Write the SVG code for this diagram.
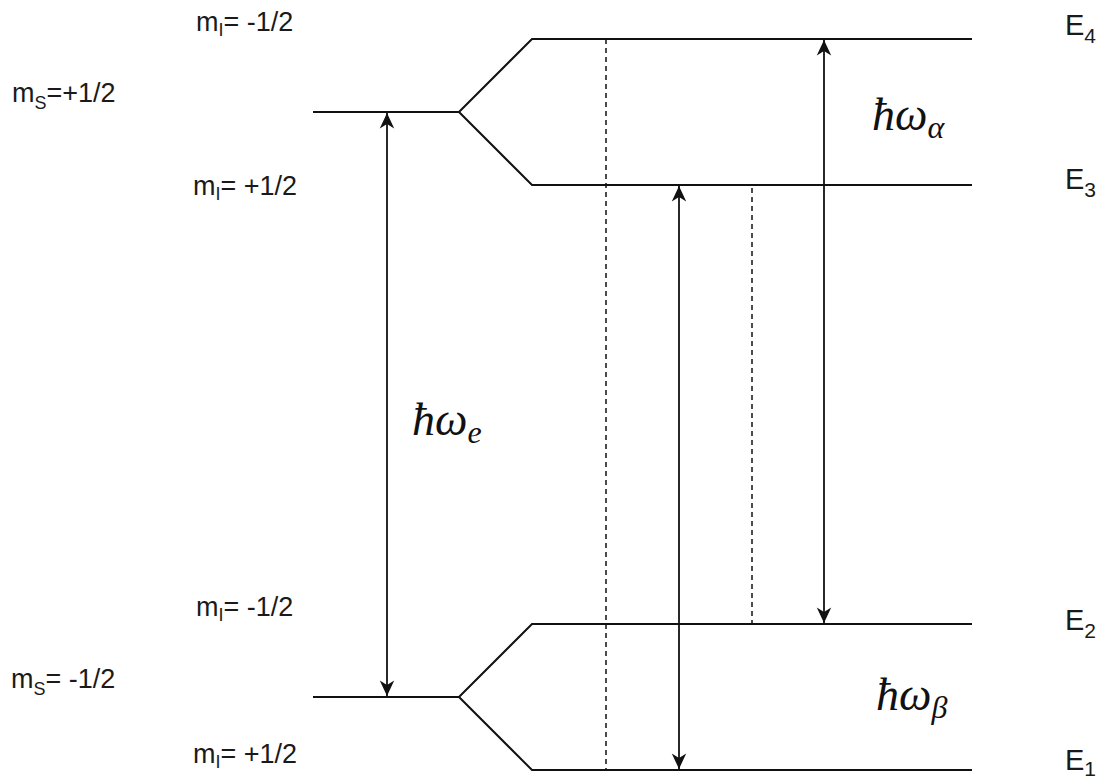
<svg xmlns="http://www.w3.org/2000/svg" width="1104" height="780" viewBox="0 0 1104 780">
<style>
.lvl{fill:none;stroke:#111;stroke-width:2;stroke-linejoin:miter}
.dash{fill:none;stroke:#111;stroke-width:1.5;stroke-dasharray:5,4}
.arr{fill:none;stroke:#111;stroke-width:1.8;marker-start:url(#ah);marker-end:url(#ah)}
.lab{font-family:"Liberation Sans",Arial,sans-serif;font-size:27px;fill:#1a1a1a}
.sub{font-size:18px}
.el{font-family:"Liberation Sans",Arial,sans-serif;font-size:29px;fill:#1a1a1a}
.esub{font-size:21px}
.hw{font-family:"Liberation Serif","Times New Roman",serif;font-style:italic;font-size:46px;fill:#111}
.hwsub{font-size:32px}
</style>
<defs>
<marker id="ah" markerUnits="userSpaceOnUse" markerWidth="20" markerHeight="20" viewBox="-16 -8 18 16" refX="0" refY="0" orient="auto-start-reverse">
<path d="M0,0 L-14,-6.5 L-10,0 L-14,6.5 Z" fill="#111"/>
</marker>
</defs>
<g id="upper-level">
<path class="lvl" d="M313,112 H459 L532,39 H972 M459,112 L532,185 H972"/>
</g>
<g id="lower-level">
<path class="lvl" d="M313,697 H459 L532,624 H972 M459,697 L532,770 H972"/>
</g>
<g id="connectors">
<line class="dash" x1="606" y1="39" x2="606" y2="770"/>
<line class="dash" x1="752" y1="188" x2="752" y2="624"/>
<line class="arr" x1="387" y1="113" x2="387" y2="696"/>
<line class="arr" x1="679" y1="186" x2="679" y2="769"/>
<line class="arr" x1="824" y1="40" x2="824" y2="623"/>
</g>
<g id="labels-left">
<text class="lab" x="196" y="31">m<tspan class="sub" dy="5">I</tspan><tspan dy="-5">= -1/2</tspan></text>
<text class="lab" x="12" y="102">m<tspan class="sub" dy="7">S</tspan><tspan dy="-7">=+1/2</tspan></text>
<text class="lab" x="193" y="195">m<tspan class="sub" dy="5">I</tspan><tspan dy="-5">= +1/2</tspan></text>
<text class="lab" x="196" y="616">m<tspan class="sub" dy="5">I</tspan><tspan dy="-5">= -1/2</tspan></text>
<text class="lab" x="11" y="688">m<tspan class="sub" dy="7">S</tspan><tspan dy="-7">= -1/2</tspan></text>
<text class="lab" x="193" y="763">m<tspan class="sub" dy="5">I</tspan><tspan dy="-5">= +1/2</tspan></text>
</g>
<g id="labels-energy">
<text class="el" x="1065" y="35">E<tspan class="esub" dy="8">4</tspan></text>
<text class="el" x="1065" y="189">E<tspan class="esub" dy="8">3</tspan></text>
<text class="el" x="1065" y="630">E<tspan class="esub" dy="8">2</tspan></text>
<text class="el" x="1065" y="770">E<tspan class="esub" dy="6">1</tspan></text>
</g>
<g id="labels-hw">
<text class="hw" x="872" y="130">ħω<tspan class="hwsub" dy="8">α</tspan></text>
<text class="hw" x="412" y="435">ħω<tspan class="hwsub" dy="8">e</tspan></text>
<text class="hw" x="876" y="710">ħω<tspan class="hwsub" dy="8">β</tspan></text>
</g>
</svg>
